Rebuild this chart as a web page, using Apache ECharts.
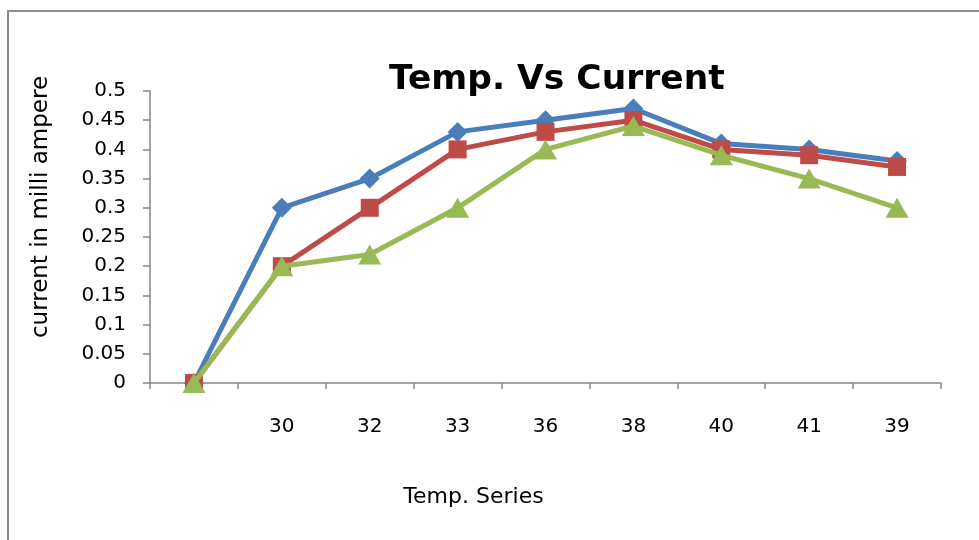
<!DOCTYPE html>
<html>
<head>
<meta charset="utf-8">
<script src="https://cdn.jsdelivr.net/npm/echarts@6/dist/echarts.min.js"></script>
<style>html,body{margin:0;padding:0;background:#fff;}#c{width:979px;height:540px;}</style>
</head>
<body>
<div id="c"></div>
<script>
var categories = ['', '30', '32', '33', '36', '38', '40', '41', '39'];
var seriesA = [0, 0.30, 0.35, 0.43, 0.45, 0.47, 0.41, 0.40, 0.38];
var seriesB = [0, 0.20, 0.30, 0.40, 0.43, 0.45, 0.40, 0.39, 0.37];
var seriesC = [0, 0.20, 0.22, 0.30, 0.40, 0.44, 0.39, 0.35, 0.30];
var titleText = 'Temp. Vs Current';
var xName = 'Temp. Series';
var yName = 'current in milli ampere';

var chart = echarts.init(document.getElementById('c'), null, {renderer: 'canvas'});
var axisColor = '#868686';
var font = 'DejaVu Sans';
chart.setOption({
  animation: false,
  backgroundColor: '#ffffff',
  graphic: [{
    type: 'rect', silent: true, z: -10,
    shape: {x: 8, y: 11, width: 1000, height: 600},
    style: {fill: 'none', stroke: '#8c8c8c', lineWidth: 2}
  }],
  title: {
    text: titleText, left: 384, top: 58,
    textStyle: {fontFamily: font, fontWeight: 'bold', fontSize: 34.5, color: '#000'}
  },
  grid: {left: 150, right: 38, top: 91, bottom: 157, containLabel: false},
  xAxis: {
    type: 'category', data: categories, boundaryGap: true,
    name: xName, nameLocation: 'middle', nameGap: 103,
    nameTextStyle: {fontFamily: font, fontSize: 22, color: '#000', padding: [0, 144, 0, 0]},
    axisLine: {lineStyle: {color: axisColor, width: 1.5}},
    axisTick: {show: true, length: 6, alignWithLabel: false, lineStyle: {color: axisColor, width: 1.5}},
    axisLabel: {fontFamily: font, fontSize: 20, color: '#000', margin: 34, interval: 0},
    splitLine: {show: false}
  },
  yAxis: {
    type: 'value', min: 0, max: 0.5, interval: 0.05,
    name: yName, nameLocation: 'middle', nameGap: 97, nameRotate: 90,
    nameTextStyle: {fontFamily: font, fontSize: 23, color: '#000', padding: [0, 0, 0, 60]},
    axisLine: {show: true, lineStyle: {color: axisColor, width: 1.5}},
    axisTick: {show: true, length: 7, lineStyle: {color: axisColor, width: 1.5}},
    axisLabel: {fontFamily: font, fontSize: 20, color: '#000', margin: 24},
    splitLine: {show: false}
  },
  series: [
    {type: 'line', data: seriesA, symbol: 'diamond', symbolSize: 20,
     lineStyle: {color: '#4A7EBB', width: 5}, itemStyle: {color: '#4A7EBB'}, z: 2},
    {type: 'line', data: seriesB, symbol: 'rect', symbolSize: 18,
     lineStyle: {color: '#BE4B48', width: 5}, itemStyle: {color: '#BE4B48'}, z: 3},
    {type: 'line', data: seriesC, symbol: 'triangle', symbolSize: [23, 20],
     lineStyle: {color: '#98B954', width: 5}, itemStyle: {color: '#98B954'}, z: 4}
  ]
});
</script>
</body>
</html>
